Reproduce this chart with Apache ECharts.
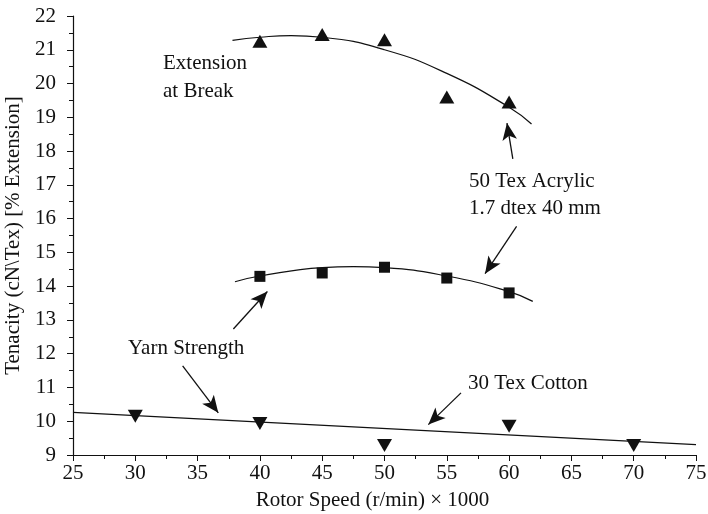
<!DOCTYPE html>
<html>
<head>
<meta charset="utf-8">
<script src="https://cdn.jsdelivr.net/npm/echarts@6/dist/echarts.min.js"></script>
<style>
  html, body { margin: 0; padding: 0; background: #fff; }
  #main { width: 708px; height: 514px; }
</style>
</head>
<body>
<div id="main"></div>
<script>
// measured points (rotor speed, value)
var extensionPts = [[40, 21.25], [45, 21.45], [50, 21.3], [55, 19.6], [60, 19.45]];
var extensionFit = [[37.8, 21.28], [40, 21.37], [42.5, 21.42], [45, 21.37], [50, 21.0], [55, 20.3], [60, 19.3], [61.8, 18.8]];

var acrylicPts = [[40, 14.29], [45, 14.39], [50, 14.56], [55, 14.24], [60, 13.8]];
var acrylicFit = [[38, 14.13], [40, 14.3], [45, 14.55], [47.5, 14.58], [50, 14.55], [55, 14.3], [60, 13.84], [61.9, 13.55]];

var cottonPts = [[30, 10.15], [40, 9.93], [50, 9.28], [60, 9.85], [70, 9.28]];
var cottonFit = [[25, 10.26], [75, 9.31]];

// annotation arrows [tail, head]
var arrows = [
  [[60.3, 17.77], [59.83, 18.83]],
  [[60.6, 15.77], [58.07, 14.37]],
  [[37.87, 12.73], [40.6, 13.84]],
  [[33.8, 11.64], [36.66, 10.25]],
  [[56.14, 10.84], [53.52, 9.9]]
];

var font = '"Liberation Serif", "DejaVu Serif", serif';
var chart = echarts.init(document.getElementById('main'));

function fitLine(data) {
  return {
    type: 'line', data: data, smooth: true, symbol: 'none',
    lineStyle: { color: '#111', width: 1.2 }, z: 2
  };
}
function marks(data, symbol, size, rot) {
  return {
    type: 'scatter', data: data, symbol: symbol, symbolSize: size,
    symbolRotate: rot || 0,
    itemStyle: { color: '#111', opacity: 1 }, z: 3
  };
}

var text = function (x, y, s) {
  return { type: 'text', left: x, top: y,
    style: { text: s, font: '21px ' + font, fill: '#111' } };
};

chart.setOption({
  backgroundColor: '#fff',
  animation: false,
  grid: { left: 73, right: 12, top: 16, bottom: 59, outerBoundsMode: 'none' },
  xAxis: {
    type: 'value', min: 25, max: 75, interval: 5,
    name: 'Rotor Speed (r/min) × 1000', nameLocation: 'middle', nameGap: 35,
    nameTextStyle: { fontFamily: font, fontSize: 21, color: '#111', padding: [0, 24, 0, 0] },
    axisLine: { lineStyle: { color: '#111', width: 1.2 } },
    axisTick: { length: 6, lineStyle: { color: '#111' } },
    minorTick: { show: true, splitNumber: 2, length: 4, lineStyle: { color: '#111' } },
    axisLabel: { fontFamily: font, fontSize: 21, color: '#111', margin: 8 },
    splitLine: { show: false }
  },
  yAxis: {
    type: 'value', min: 9, max: 22, interval: 1,
    name: 'Tenacity (cN\\Tex) [% Extension]', nameLocation: 'middle', nameGap: 46,
    nameTextStyle: { fontFamily: font, fontSize: 21, color: '#111' },
    axisLine: { show: true, lineStyle: { color: '#111', width: 1.2 } },
    axisTick: { show: true, length: 6, lineStyle: { color: '#111' } },
    minorTick: { show: true, splitNumber: 2, length: 4, lineStyle: { color: '#111' } },
    axisLabel: { fontFamily: font, fontSize: 21, color: '#111', margin: 17 },
    splitLine: { show: false }
  },
  series: [
    fitLine(extensionFit),
    fitLine(acrylicFit),
    fitLine(cottonFit),
    marks(extensionPts, 'triangle', [15, 13]),
    marks(acrylicPts, 'rect', 11),
    marks(cottonPts, 'triangle', [15, 13], 180),
    {
      type: 'line', data: [], silent: true,
      markLine: {
        silent: true, animation: false,
        symbol: ['none', 'arrow'], symbolSize: [11, 17],
        lineStyle: { color: '#111', width: 1.3, type: 'solid' },
        label: { show: false },
        data: arrows.map(function (a) {
          return [{ coord: a[0] }, { coord: a[1] }];
        })
      }
    }
  ],
  graphic: [
    text(163, 53, 'Extension'),
    text(163, 81, 'at Break'),
    text(469, 171, '50 Tex Acrylic'),
    text(469, 198, '1.7 dtex 40 mm'),
    text(128, 338, 'Yarn Strength'),
    text(468, 373, '30 Tex Cotton')
  ]
});
</script>
</body>
</html>
